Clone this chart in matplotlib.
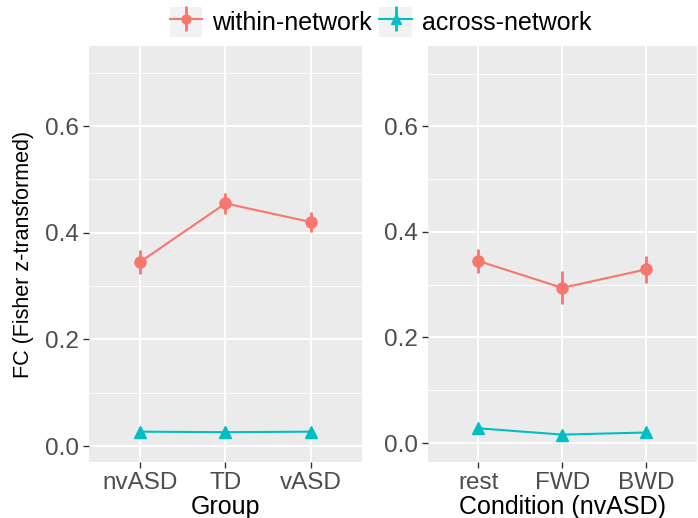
#!/usr/bin/env python3

import numpy as np
import matplotlib.pyplot as plt
from matplotlib.patches import Patch
from matplotlib.legend_handler import HandlerTuple

# group panel
groups = ["nvASD", "TD", "vASD"]
within_group = [0.345, 0.455, 0.420]
within_group_err = [0.022, 0.020, 0.018]
across_group = [0.027, 0.026, 0.027]
across_group_err = [0.004, 0.003, 0.004]

# condition panel (nvASD only)
conditions = ["rest", "FWD", "BWD"]
within_cond = [0.345, 0.294, 0.329]
within_cond_err = [0.023, 0.031, 0.026]
across_cond = [0.028, 0.016, 0.020]
across_cond_err = [0.004, 0.003, 0.003]

RED = "#F8766D"
CYAN = "#00BFC4"
BG = "#EBEBEB"

plt.rcParams["font.family"] = ["Liberation Sans", "DejaVu Sans"]


def style_axis(ax, ylim):
    ax.set_facecolor(BG)
    for s in ax.spines.values():
        s.set_visible(False)
    ax.set_xlim(0.4, 3.6)
    ax.set_ylim(*ylim)
    ax.set_yticks([0.0, 0.2, 0.4, 0.6])
    ax.set_yticklabels(["0.0", "0.2", "0.4", "0.6"])
    ax.set_yticks([0.1, 0.3, 0.5, 0.7], minor=True)
    ax.grid(True, which="major", color="white", lw=1.3)
    ax.grid(True, which="minor", axis="y", color="white", lw=0.6)
    ax.set_axisbelow(True)
    ax.tick_params(which="major", length=4, width=1.0, color="#333333",
                   labelsize=17.5, labelcolor="#4D4D4D", pad=3)
    ax.tick_params(which="minor", length=0)


def draw(ax, labels, within, within_err, across, across_err):
    x = np.arange(1, len(labels) + 1)
    e1 = ax.errorbar(x, within, yerr=within_err, color=RED, marker="o",
                     ms=8, lw=1.5, elinewidth=2.0, capsize=0)
    e2 = ax.errorbar(x, across, yerr=across_err, color=CYAN, marker="^",
                     ms=9, lw=1.5, elinewidth=2.0, capsize=0)
    ax.set_xticks(x)
    ax.set_xticklabels(labels)
    return e1, e2


fig = plt.figure(figsize=(6.98, 5.18), dpi=100)
ax1 = fig.add_axes([0.127, 0.108, 0.392, 0.803])
ax2 = fig.add_axes([0.613, 0.108, 0.385, 0.803])

style_axis(ax1, (-0.030, 0.750))
style_axis(ax2, (-0.036, 0.752))

h1, h2 = draw(ax1, groups, within_group, within_group_err,
              across_group, across_group_err)
draw(ax2, conditions, within_cond, within_cond_err,
     across_cond, across_cond_err)

ax1.set_xlabel("Group", fontsize=18, labelpad=1)
ax2.set_xlabel("Condition (nvASD)", fontsize=18, labelpad=1)
ax1.set_ylabel("FC (Fisher z-transformed)", fontsize=15.5, labelpad=8)

key = Patch(facecolor="#F2F2F2", edgecolor="none")
fig.legend([(key, h1), (key, h2)], ["within-network", "across-network"],
           handler_map={tuple: HandlerTuple(ndivide=1)},
           loc="upper center", bbox_to_anchor=(0.545, 1.03), ncol=2,
           frameon=False, fontsize=18, handlelength=1.3, handleheight=1.5,
           handletextpad=0.4, columnspacing=0.3, markerscale=0.8)

fig.savefig("out.png", dpi=100)
